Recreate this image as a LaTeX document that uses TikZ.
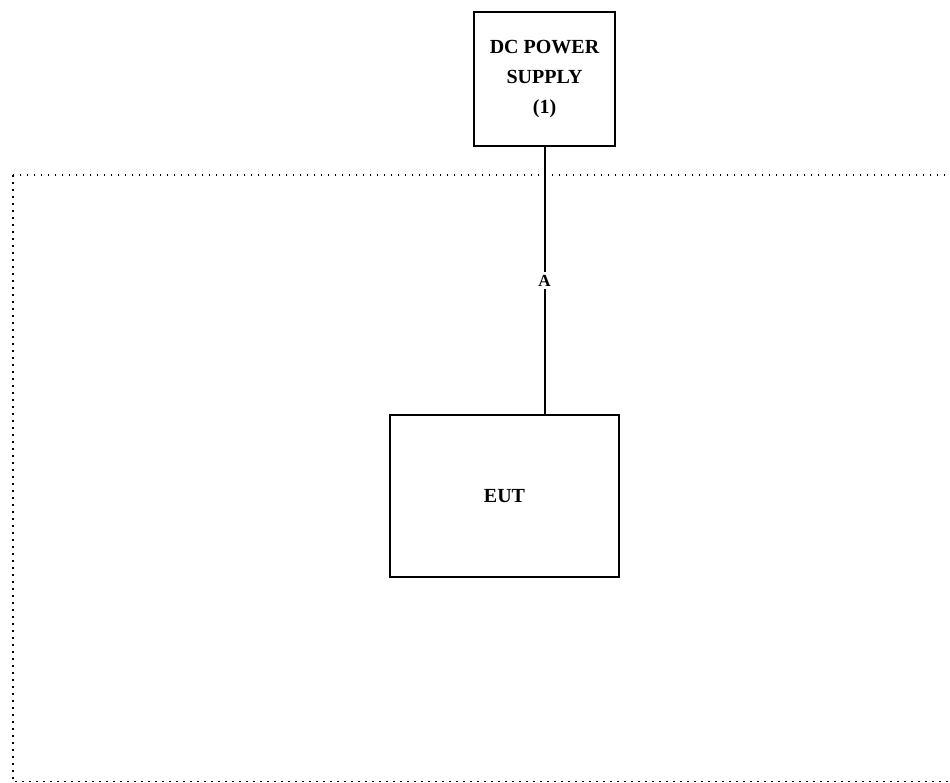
\documentclass[tikz,border=0pt]{standalone}
\usepackage{fontspec}
\setmainfont{Liberation Serif}
\usetikzlibrary{positioning}

\begin{document}
\begin{tikzpicture}[x=1pt,y=-1pt,
  unit/.style={draw, line width=2.6pt, inner sep=0pt, font=\fontsize{20}{30}\selectfont\bfseries, align=center},
  wire/.style={line width=2pt},
  frame/.style={line width=1.6pt, dash pattern=on 1.6pt off 5.4pt}]
\useasboundingbox (0,0) rectangle (950,782);
% shielded room boundary
\draw[frame] (13,175) rectangle (950.6,781.6);
\node[unit, minimum width=141pt, minimum height=134pt] (psu) at (544.5,79)
  {DC POWER\\SUPPLY\\(1)};
\node[unit, minimum width=229pt, minimum height=162pt] (eut) at (504.5,496) {EUT};
\coordinate (eutin) at (psu.south |- eut.north);
\draw[wire] (psu.south) -- (eutin)
  node[pos=0.5, fill=white, inner sep=3pt, font=\fontsize{17}{20}\selectfont\bfseries] (lblA) {A};
\end{tikzpicture}
\end{document}
